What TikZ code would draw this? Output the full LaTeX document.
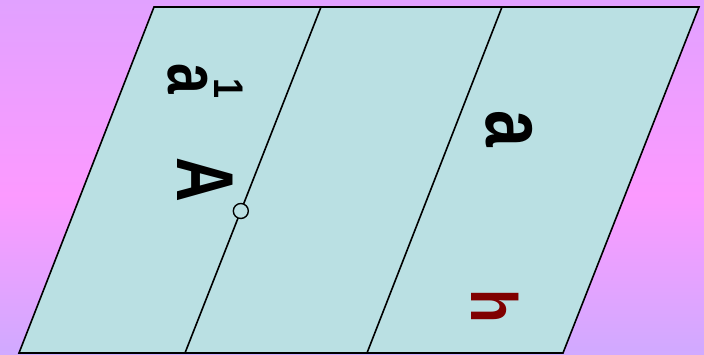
\documentclass[tikz,border=0pt]{standalone}
\usepackage{fontspec}
\setmainfont{Liberation Sans}
\usepackage{graphicx}
\usetikzlibrary{calc}
\definecolor{bgtop}{RGB}{225,161,255}
\definecolor{bgmid}{RGB}{252,154,255}
\definecolor{bgbot}{RGB}{208,170,255}
\definecolor{stripfill}{RGB}{186,224,227}
\definecolor{hred}{RGB}{128,0,0}
\newcommand{\rotlabel}[3]{\rotatebox{-90}{\scalebox{1}[#2]{\fontsize{#1}{#1}\selectfont\bfseries #3}}}
\begin{document}
\begin{tikzpicture}[x=1pt,y=1pt,
  edge/.style={line width=1.6pt, line join=miter},
  lbl/.style={inner sep=0pt, outer sep=0pt}]
\useasboundingbox (0,0) rectangle (704,355);
\shade[top color=bgtop, bottom color=bgmid] (0,160) rectangle (704,355);
\shade[top color=bgmid, bottom color=bgbot] (0,0) rectangle (704,160.5);
\coordinate (TL) at (154,348);
\coordinate (TR) at (699,348);
\coordinate (BR) at (563,2);
\coordinate (BL) at (19,2);
\coordinate (M1t) at (321,348);
\coordinate (M1b) at (185,2);
\coordinate (M2t) at (502,348);
\coordinate (M2b) at (367,2);
\filldraw[fill=stripfill, edge] (BL) -- (BR) -- (TR) -- (TL) -- cycle;
\draw[edge] (M1t) -- (M1b);
\draw[edge] (M2t) -- (M2b);
\coordinate (P) at ($(M1t)!0.5896!(M1b)$);
\node[circle, draw, fill=stripfill, minimum size=15pt, inner sep=0pt, line width=1.4pt] (pt) at (P) {};
\node[lbl] (a1a) at (188,276.5) {\rotlabel{55}{1.33}{a}};
\node[lbl] (a1i) at (229,266) {\rotlabel{36}{1.15}{1}};
\node[lbl] (A) at (205.5,175.5) {\rotlabel{62}{1.3}{A}};
\node[lbl] (a) at (509,226) {\rotlabel{66}{1.3}{a}};
\node[lbl, text=hred] (h) at (495.5,49) {\rotlabel{55}{1.19}{h}};
\end{tikzpicture}
\end{document}
